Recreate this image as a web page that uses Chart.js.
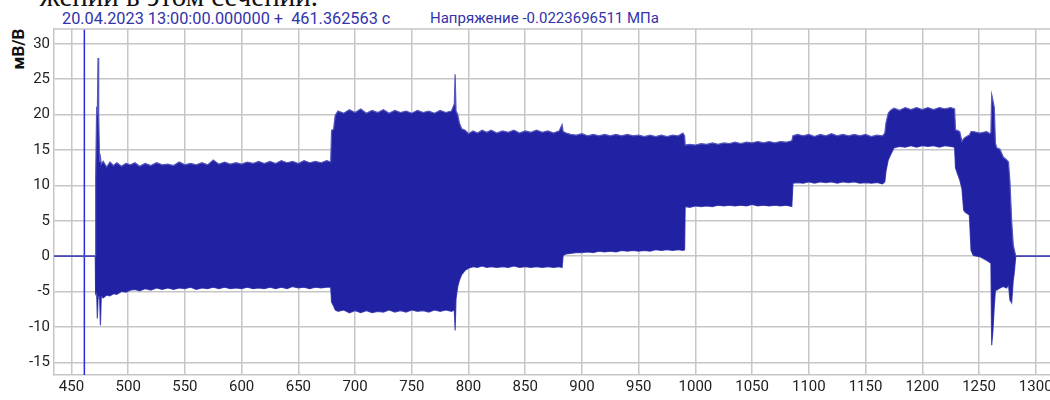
<!DOCTYPE html>
<html>
<head>
<meta charset="utf-8">
<script src="https://cdn.jsdelivr.net/npm/chart.js@4/dist/chart.umd.min.js"></script>
<style>
  html, body { margin: 0; padding: 0; background: #fff; overflow: hidden; }
  #wrap { position: relative; width: 1050px; height: 400px; overflow: hidden; }
  #doc-text { position: absolute; left: 0; top: -20px; width: 318px; text-align: right; white-space: nowrap;
              font-family: "Liberation Serif", "DejaVu Serif", serif; font-size: 29px; color: #111; }
  .head { position: absolute; top: 9px; font-family: Roboto, sans-serif; color: #3333aa; white-space: pre; }
  #ylabel { position: absolute; left: 9px; top: 29px; width: 18px; height: 40px;
            font-family: Roboto, sans-serif; font-weight: bold; font-size: 17px; color: #111; }
  #ylabel span { position: absolute; left: 50%; top: 50%; transform: translate(-50%, -50%) rotate(-90deg); white-space: nowrap; }
  canvas { position: absolute; left: 0; top: 0; }
</style>
</head>
<body>
<div id="wrap">
  <div id="doc-text">жении в этом сечении.</div>
  <div class="head" style="left:62px; font-size:16.3px">20.04.2023 13:00:00.000000 +  461.362563 с</div>
  <div class="head" style="left:430px; font-size:15px">Напряжение -0.0223696511 МПа</div>
  <div id="ylabel"><span>мВ/В</span></div>
  <canvas id="chart" width="1050" height="400"></canvas>
</div>
<script>
// axis ranges (seconds / mV/V)
const xMin = 434.6, xMax = 1312.6;
const yMin = -16.8, yMax = 32.1;
const xStep = 50, yStep = 5;
const cursorTime = 461.362563;

// signal envelope: time, upper edge, lower edge
const times = [
  434.6, 471.0, 471.3, 472.2, 472.8, 473.4, 474.0, 474.8, 475.5, 476.3, 478, 481, 484, 487, 490, 494, 498,
  502, 506, 510, 515, 520, 525, 530, 535, 540, 545, 550, 555, 560, 565, 570, 575, 580, 585, 590, 595,
  600, 605, 610, 615, 620, 625, 630, 635, 640, 645, 650, 655, 660, 665, 670, 675, 678.5,
  679.3, 681, 682.5, 685, 690, 695, 700, 705, 710, 715, 720, 725, 730, 735, 740, 745, 750, 755, 760,
  765, 770, 775, 780, 785, 787.5, 788.2, 789, 790.5, 792, 794, 797,
  800, 804, 808, 812, 816, 820, 825, 830, 835, 840, 845, 850, 855, 860, 865, 870, 875, 880, 882.5,
  883.4, 886, 890, 895, 900, 905, 910, 915, 920, 925, 930, 935, 940, 945, 950, 955, 960, 965, 970,
  975, 980, 985, 989, 990.5,
  991, 995, 1000, 1005, 1010, 1015, 1020, 1025, 1030, 1035, 1040, 1045, 1050, 1055, 1060, 1065, 1070,
  1075, 1080, 1085,
  1086, 1090, 1095, 1100, 1105, 1110, 1115, 1120, 1125, 1130, 1135, 1140, 1145, 1150, 1155, 1160, 1165,
  1167, 1168, 1170, 1172, 1175, 1180, 1185, 1190, 1195, 1200, 1205, 1210, 1215, 1220, 1225, 1228.5,
  1229.3, 1230.3, 1233, 1235, 1236.5, 1238, 1241.5, 1243, 1245, 1250.9, 1256.8, 1259.7,
  1260.5, 1261.2, 1262.3, 1263.5, 1264.5, 1265.6, 1268.5, 1271.4, 1274.4, 1276, 1277.3, 1278.8,
  1280.2, 1281, 1282.4, 1312.6
];
const upperEnv = [
  0.05, 0.05, 10.7, 21.1, 20.0, 28.0, 19.9, 13.3, 14.0, 13.0, 13.4, 12.6, 13.3, 12.8, 13.2, 12.7, 13.1,
  12.9, 13.2, 12.7, 13.1, 12.8, 13.2, 12.9, 13.0, 12.8, 13.3, 12.9, 13.1, 12.9, 13.2, 12.9, 13.6, 13.0, 13.3, 13.0, 13.2,
  13.0, 13.3, 13.1, 13.4, 13.1, 13.4, 13.1, 13.5, 13.2, 13.4, 13.1, 13.5, 13.2, 13.4, 13.2, 13.5, 13.3,
  17.8, 17.9, 19.9, 20.5, 20.2, 20.7, 20.3, 20.8, 20.2, 20.6, 20.3, 20.7, 20.2, 20.6, 20.3, 20.5, 20.2, 20.6, 20.3,
  20.5, 20.2, 20.6, 20.3, 20.5, 21.5, 25.7, 20.5, 20.0, 18.8, 18.0, 17.8,
  17.3, 17.7, 17.4, 17.8, 17.5, 17.8, 17.4, 17.7, 17.5, 17.8, 17.4, 17.7, 17.5, 17.8, 17.5, 17.7, 17.4, 17.7, 18.6,
  17.6, 17.4, 17.2, 17.1, 17.3, 17.0, 17.2, 17.0, 17.2, 17.0, 17.2, 17.0, 17.2, 17.0, 17.1, 16.9, 17.1, 16.9, 17.1,
  16.9, 17.1, 17.0, 17.4, 17.0,
  15.7, 15.8, 15.7, 15.9, 15.8, 16.0, 15.8, 16.0, 15.9, 16.1, 15.9, 16.1, 16.0, 16.2, 16.0, 16.2, 16.0,
  16.2, 16.1, 16.3,
  17.0, 17.2, 17.0, 17.2, 16.9, 17.2, 17.0, 17.3, 17.0, 17.2, 17.0, 17.2, 17.0, 17.2, 16.9, 17.1, 17.0,
  17.4, 18.8, 20.2, 20.6, 20.9, 20.6, 21.0, 20.7, 21.0, 20.7, 21.0, 20.7, 21.0, 20.8, 21.0, 20.8,
  17.8, 17.8, 17.6, 16.2, 16.6, 16.8, 17.1, 17.6, 17.6, 17.4, 17.6, 17.3,
  17.5, 22.8, 22.0, 21.0, 16.0, 15.3, 15.1, 14.0, 13.6, 13.3, 10.5, 5.0,
  1.6, 1.0, 0.05, 0.05
];
const lowerEnv = [
  -0.05, -0.05, -5.3, -5.0, -8.8, -6.0, -5.5, -5.8, -9.8, -5.6, -5.9, -5.5, -5.6, -5.3, -5.4, -5.0, -5.1,
  -4.8, -4.7, -4.9, -4.6, -4.8, -4.5, -4.7, -4.5, -4.7, -4.5, -4.6, -4.4, -4.7, -4.5, -4.6, -4.4, -4.6, -4.4, -4.6, -4.5,
  -4.6, -4.4, -4.6, -4.5, -4.6, -4.4, -4.6, -4.4, -4.6, -4.3, -4.5, -4.4, -4.6, -4.4, -4.5, -4.4, -4.4,
  -6.5, -7.0, -7.6, -7.8, -7.6, -8.0, -7.7, -8.0, -7.7, -8.0, -7.8, -7.9, -7.6, -7.9, -7.7, -7.9, -7.6, -7.8, -7.7,
  -7.9, -7.6, -7.8, -7.6, -7.8, -7.6, -10.5, -6.0, -4.3, -3.4, -2.6, -2.0,
  -1.7, -1.5, -1.6, -1.4, -1.6, -1.5, -1.6, -1.5, -1.6, -1.4, -1.6, -1.5, -1.6, -1.5, -1.6, -1.5, -1.6, -1.5, -1.6,
  0.1, 0.3, 0.4, 0.5, 0.5, 0.6, 0.5, 0.7, 0.6, 0.7, 0.6, 0.8, 0.7, 0.8, 0.7, 0.8, 0.7, 0.9, 0.8,
  0.9, 0.8, 0.9, 0.8, 0.9,
  7.0, 6.9, 7.1, 7.0, 7.1, 7.0, 7.2, 7.1, 7.2, 7.1, 7.2, 7.1, 7.3, 7.1, 7.2, 7.1, 7.2,
  7.1, 7.2, 7.0,
  10.3, 10.4, 10.3, 10.5, 10.3, 10.5, 10.4, 10.5, 10.3, 10.5, 10.4, 10.5, 10.3, 10.4, 10.3, 10.4, 10.2,
  10.5, 12.0, 13.6, 14.3, 15.3, 15.5, 15.4, 15.6, 15.4, 15.6, 15.5, 15.6, 15.4, 15.6, 15.5, 15.4,
  12.5, 12.0, 10.8, 9.5, 6.5, 6.2, 5.8, 0.8, 0.1, -0.1, -0.6, -0.9,
  -1.0, -12.6, -10.5, -7.0, -4.8, -4.8, -4.5, -4.3, -4.5, -4.0, -6.2, -6.6,
  -3.4, -2.5, -0.05, -0.05
];

const signalColor = '#2121a3';
const edgeColor = '#5656bc';
const gridColor = '#c6c6c6';

const topBorder = {
  id: 'topBorder',
  afterDraw(chart) {
    const { ctx, chartArea } = chart;
    ctx.save();
    ctx.strokeStyle = gridColor;
    ctx.lineWidth = 1.5;
    ctx.beginPath();
    ctx.moveTo(chartArea.left, chartArea.top);
    ctx.lineTo(chartArea.right, chartArea.top);
    ctx.stroke();
    ctx.restore();
  }
};

Chart.defaults.font.family = 'Roboto, sans-serif';
Chart.defaults.color = '#222';

new Chart(document.getElementById('chart'), {
  type: 'line',
  data: {
    datasets: [
      {
        data: times.map((t, i) => ({ x: t, y: upperEnv[i] })),
        borderColor: edgeColor,
        borderWidth: 1.2,
        backgroundColor: signalColor,
        fill: '+1'
      },
      {
        data: times.map((t, i) => ({ x: t, y: lowerEnv[i] })),
        borderColor: edgeColor,
        borderWidth: 1.2,
        fill: false
      },
      {
        data: [{ x: cursorTime, y: yMin }, { x: cursorTime, y: yMax }],
        borderColor: '#2a2ae0',
        borderWidth: 1.5,
        fill: false
      }
    ]
  },
  options: {
    responsive: false,
    animation: false,
    layout: { padding: { top: 29, left: 0, right: 0, bottom: 0 } },
    elements: { point: { radius: 0 }, line: { tension: 0 } },
    plugins: { legend: { display: false }, tooltip: { enabled: false } },
    scales: {
      x: {
        type: 'linear',
        min: xMin,
        max: xMax,
        grid: { color: gridColor, lineWidth: 1.5, drawTicks: false },
        border: { color: gridColor, width: 1.5 },
        ticks: { stepSize: xStep, includeBounds: false, autoSkip: false, maxRotation: 0,
                 padding: 3, font: { size: 15 }, callback: v => String(v) },
        afterFit(scale) { scale.height = 25; scale.paddingLeft = 0; scale.paddingRight = 0; }
      },
      y: {
        min: yMin,
        max: yMax,
        grid: { color: gridColor, lineWidth: 1.5, drawTicks: false },
        border: { color: gridColor, width: 1.5 },
        ticks: { stepSize: yStep, includeBounds: false, padding: 4, font: { size: 15 }, callback: v => String(v) },
        afterFit(scale) { scale.width = 54; scale.paddingTop = 0; scale.paddingBottom = 0; }
      }
    }
  },
  plugins: [topBorder]
});
</script>
</body>
</html>
